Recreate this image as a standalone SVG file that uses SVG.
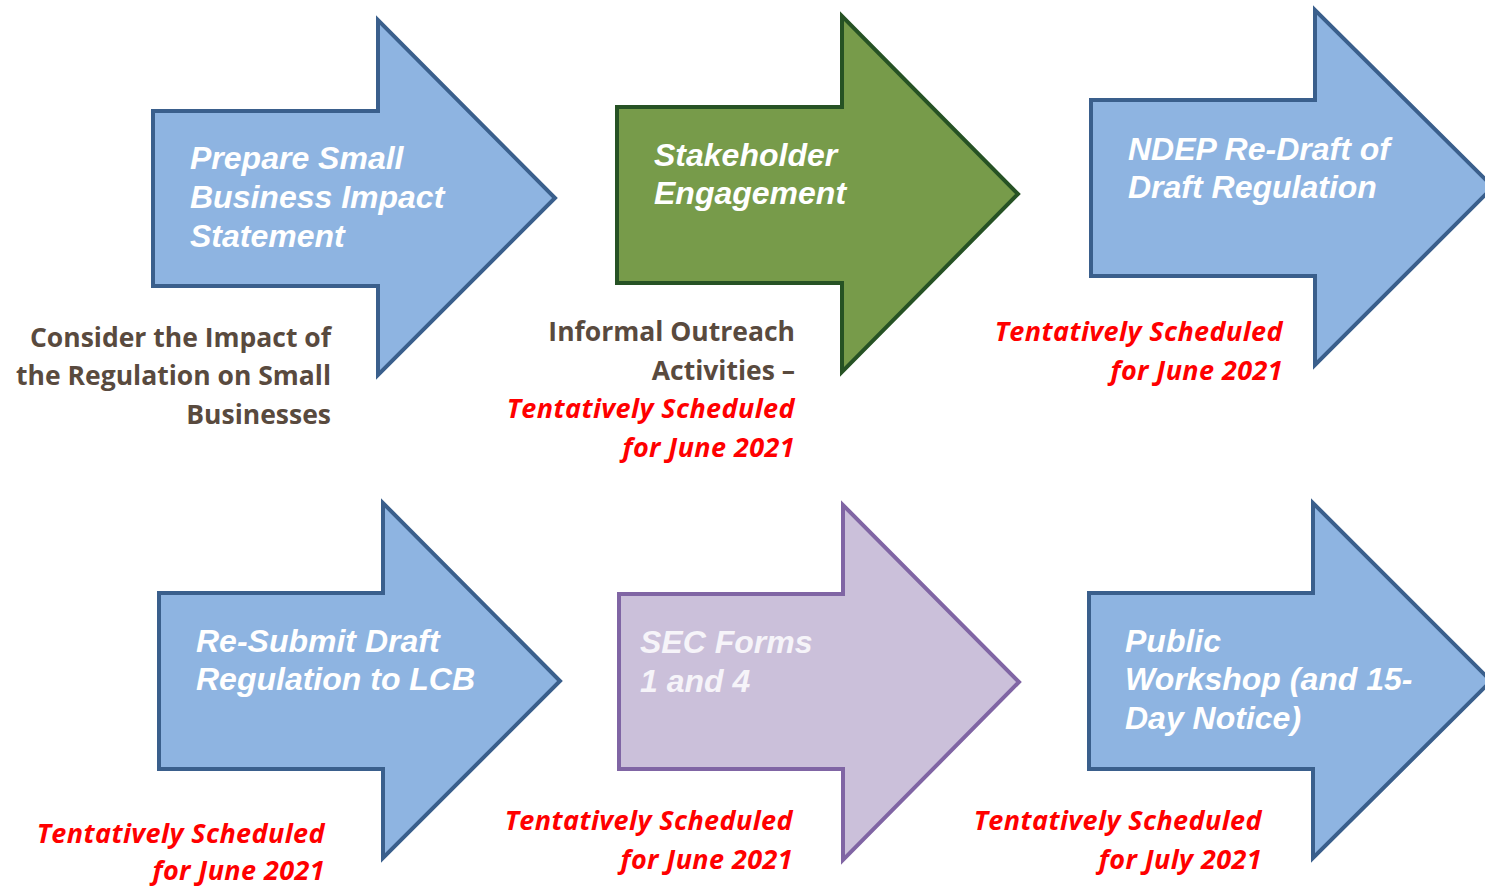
<svg xmlns="http://www.w3.org/2000/svg" width="1485" height="888" viewBox="0 0 1485 888">
<style>
.blue{fill:#8EB4E1;stroke:#3A5F8C;stroke-width:4;stroke-linejoin:miter}
.green{fill:#779B4A;stroke:#265224;stroke-width:4;stroke-linejoin:miter}
.purple{fill:#CBC0DA;stroke:#8065A4;stroke-width:4;stroke-linejoin:miter}
.lbl{font-family:"Liberation Sans",Arial,sans-serif;font-weight:bold;font-style:italic;font-size:32px;fill:#FFFFFF}
.lblp{fill:#F6F4F9}
.note{font-family:"Open Sans",Lato,sans-serif;font-weight:bold;font-size:26.5px;fill:#594A3E;text-anchor:end}
.red{font-family:"Open Sans",Lato,sans-serif;font-weight:bold;font-style:italic;font-size:27px;letter-spacing:0.4px;fill:#FF0000;text-anchor:end}
</style>
<g id="connectors"></g>
<g id="n1">
<path class="blue" d="M153,111 H378 V20 L555,198 L378,375 V286 H153 Z"/>
<text class="lbl" x="190" y="169">Prepare Small</text>
<text class="lbl" x="190" y="208">Business Impact</text>
<text class="lbl" x="190" y="247">Statement</text>
</g>
<g id="n1note">
<text class="note" x="331" y="347">Consider the Impact of</text>
<text class="note" x="331" y="385">the Regulation on Small</text>
<text class="note" x="331" y="424">Businesses</text>
</g>
<g id="n2">
<path class="green" d="M617,107 H842 V16 L1018,194 L842,372 V283 H617 Z"/>
<text class="lbl" x="654" y="166">Stakeholder</text>
<text class="lbl" x="654" y="204">Engagement</text>
</g>
<g id="n2note">
<text class="note" x="795" y="341">Informal Outreach</text>
<text class="note" x="795" y="380">Activities –</text>
<text class="red" x="795" y="418">Tentatively Scheduled</text>
<text class="red" x="795" y="457">for June 2021</text>
</g>
<g id="n3">
<path class="blue" d="M1091,100 H1315 V10 L1493,187 L1315,365 V276 H1091 Z"/>
<text class="lbl" x="1128" y="160">NDEP Re-Draft of</text>
<text class="lbl" x="1128" y="198">Draft Regulation</text>
</g>
<g id="n3note">
<text class="red" x="1283" y="341">Tentatively Scheduled</text>
<text class="red" x="1283" y="380">for June 2021</text>
</g>
<g id="n4">
<path class="blue" d="M159,593 H383 V503 L560,681 L383,858 V769 H159 Z"/>
<text class="lbl" x="196" y="652">Re-Submit Draft</text>
<text class="lbl" x="196" y="690">Regulation to LCB</text>
</g>
<g id="n4note">
<text class="red" x="325" y="843">Tentatively Scheduled</text>
<text class="red" x="325" y="880">for June 2021</text>
</g>
<g id="n5">
<path class="purple" d="M619,594 H843 V505 L1019,682 L843,860 V769 H619 Z"/>
<text class="lbl lblp" x="640" y="653">SEC Forms</text>
<text class="lbl lblp" x="640" y="692">1 and 4</text>
</g>
<g id="n5note">
<text class="red" x="793" y="830">Tentatively Scheduled</text>
<text class="red" x="793" y="869">for June 2021</text>
</g>
<g id="n6">
<path class="blue" d="M1089,593 H1313 V503 L1491,681 L1313,858 V769 H1089 Z"/>
<text class="lbl" x="1125" y="652">Public</text>
<text class="lbl" x="1125" y="690">Workshop (and 15-</text>
<text class="lbl" x="1125" y="729">Day Notice)</text>
</g>
<g id="n6note">
<text class="red" x="1262" y="830">Tentatively Scheduled</text>
<text class="red" x="1262" y="869">for July 2021</text>
</g>
</svg>
